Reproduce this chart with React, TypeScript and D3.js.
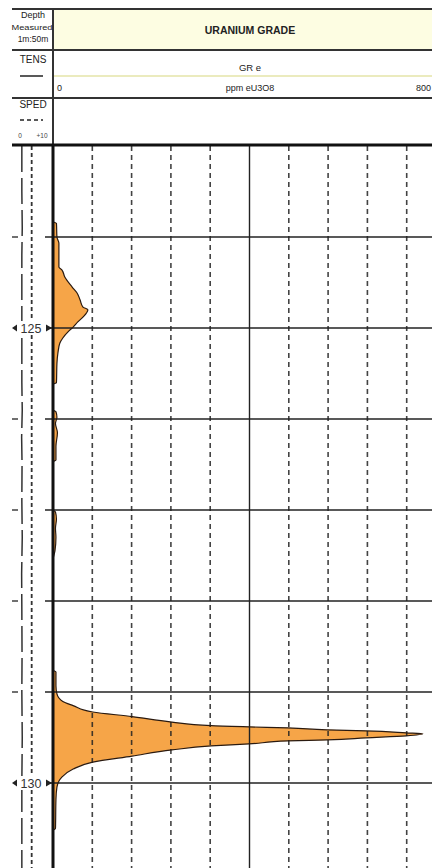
import React from "react";
import * as d3 from "d3";

// ---- data ----
const grDepth = [
  123.0, 123.83, 123.85, 124.0, 124.07, 124.33, 124.36, 124.44, 124.55, 124.615, 124.69, 124.77, 124.8, 124.88,
  124.93, 124.99, 125.04, 125.11, 125.165, 125.275, 125.39, 125.6, 125.62,
  125.9, 125.92, 125.98, 126.05, 126.15, 126.3, 126.45, 126.47,
  127.0, 127.02, 127.1, 127.2, 127.3, 127.45, 127.55,
  128.76, 128.78, 128.93, 129.02, 129.105, 129.15, 129.22, 129.27, 129.33, 129.37, 129.383, 129.394, 129.416,
  129.427, 129.449, 129.46, 129.482, 129.504, 129.527, 129.538, 129.571, 129.593, 129.637, 129.704, 129.77,
  129.847, 129.936, 130.046, 130.18, 130.5, 130.52, 131.0,
];
const grValue = [
  0, 0, 7, 8, 12, 12, 18, 24, 39, 49, 55, 61, 71, 61,
  51, 41, 31, 20, 14, 10, 8, 7, 0,
  0, 6, 8, 5, 9, 6, 6, 0,
  0, 5, 7, 5, 6, 4, 0,
  0, 6, 6, 8, 20, 41, 81, 161, 242, 322, 399, 478, 558,
  637, 719, 753, 719, 637, 558, 478, 399, 322, 242, 161, 81,
  41, 18, 8, 6, 5, 0, 0,
];
const tensDepth = [123.0, 123.5, 123.9, 124.2, 124.6, 125.1, 125.6, 125.9, 126.2, 126.5, 126.9, 127.3, 127.7, 128.1, 128.6, 129.0, 129.5, 130.0, 130.5, 131.0];
const tensValue = [24, 24, 25, 24, 24, 24, 24, 25, 23.5, 24.5, 24, 25, 23.5, 24, 24.5, 24, 25, 24, 24, 24];
const spedDepth = [123.0, 131.0];
const spedValue = [48, 48];
const gridMinor = [80, 160, 240, 320, 480, 560, 640, 720];
const gridMajor = [400];
const depthLines = [124, 125, 126, 127, 128, 129, 130];
const depthLabels = [125, 130];
const axisTicks = ["0", "ppm eU3O8", "800"];

const FONT = "'Liberation Sans', Arial, sans-serif";

export default function App() {
  const top = 146;
  const bottom = 868;
  const pxPerM = 91;
  const y = d3.scaleLinear().domain([123, 123 + (bottom - top) / pxPerM]).range([top, bottom]);
  const x = d3.scaleLinear().domain([0, 800]).range([53, 446]);
  const xTens = d3.scaleLinear().domain([0, 100]).range([12, 53]);

  const gr = grDepth.map((d, i) => ({ d, v: grValue[i] }));
  const area = d3
    .area<{ d: number; v: number }>()
    .y((p) => y(p.d))
    .x0(x(0))
    .x1((p) => x(p.v))
    .curve(d3.curveMonotoneY);
  const line = d3
    .line<{ d: number; v: number }>()
    .y((p) => y(p.d))
    .x((p) => x(p.v))
    .curve(d3.curveMonotoneY);
  const tens = tensDepth.map((d, i) => ({ d, v: tensValue[i] }));
  const tensLine = d3
    .line<{ d: number; v: number }>()
    .y((p) => y(p.d))
    .x((p) => xTens(p.v))
    .curve(d3.curveLinear);
  const sped = spedDepth.map((d, i) => ({ d, v: spedValue[i] }));

  const hdr = "#333";
  return (
    <svg
      width={432}
      height={868}
      style={{ position: "absolute", left: 0, top: 0, display: "block", background: "#fff" }}
      fontFamily={FONT}
    >
      <rect x={0} y={0} width={432} height={868} fill="#fff" />
      {/* header */}
      <rect x={53} y={9} width={400} height={41} fill="#fdfde2" />
      <line x1={12} x2={432} y1={9} y2={9} stroke={hdr} strokeWidth={2} />
      <line x1={12} x2={432} y1={50} y2={50} stroke={hdr} strokeWidth={2} />
      <line x1={53} x2={432} y1={76} y2={76} stroke="#e4e4a8" strokeWidth={1.5} />
      <line x1={12} x2={432} y1={98} y2={98} stroke={hdr} strokeWidth={2} />
      <line x1={53} x2={53} y1={9} y2={146} stroke={hdr} strokeWidth={2} />
      <text x={250} y={34} textAnchor="middle" fontSize={10.5} fontWeight="bold" fill="#222">URANIUM GRADE</text>
      <text x={250} y={71} textAnchor="middle" fontSize={9.5} fill="#222">GR e</text>
      <text x={57} y={91} textAnchor="start" fontSize={9} fill="#222">{axisTicks[0]}</text>
      <text x={250} y={91} textAnchor="middle" fontSize={9} fill="#222">{axisTicks[1]}</text>
      <text x={431} y={91} textAnchor="end" fontSize={9} fill="#222">{axisTicks[2]}</text>

      <text x={33} y={18} textAnchor="middle" fontSize={9} fill="#222">Depth</text>
      <text x={32} y={30} textAnchor="middle" fontSize={8} fill="#222" textLength={41} lengthAdjust="spacingAndGlyphs">Measured</text>
      <text x={33} y={42} textAnchor="middle" fontSize={8.5} fill="#222">1m:50m</text>
      <text x={33} y={63} textAnchor="middle" fontSize={10} fill="#222">TENS</text>
      <line x1={20} x2={43} y1={76} y2={76} stroke="#222" strokeWidth={1.5} />
      <text x={33} y={108} textAnchor="middle" fontSize={10} fill="#222">SPED</text>
      <line x1={20} x2={43} y1={120} y2={120} stroke="#222" strokeWidth={1.5} strokeDasharray="4,3" />
      <text x={20} y={138} textAnchor="middle" fontSize={6.5} fill="#444">0</text>
      <text x={42} y={138} textAnchor="middle" fontSize={6.5} fill="#444">+10</text>

      {/* GR fill */}
      <path d={area(gr) ?? ""} fill="#f6a548" />

      {/* grid */}
      {gridMinor.map((g) => (
        <line key={"m" + g} x1={x(g)} x2={x(g)} y1={top} y2={bottom} stroke="#222" strokeWidth={1.6} strokeDasharray="5,4" strokeOpacity={0.85} />
      ))}
      {gridMajor.map((g) => (
        <line key={"M" + g} x1={x(g)} x2={x(g)} y1={top} y2={bottom} stroke="#222" strokeWidth={1.4} />
      ))}
      {depthLines.map((d) => (
        <g key={"d" + d}>
          <line x1={45} x2={432} y1={y(d)} y2={y(d)} stroke="#222" strokeWidth={1.4} />
          {!depthLabels.includes(d) && <line x1={12} x2={18} y1={y(d)} y2={y(d)} stroke="#333" strokeWidth={1.4} />}
        </g>
      ))}

      {/* GR curve outline */}
      <path d={line(gr) ?? ""} fill="none" stroke="#2a1a10" strokeWidth={1.2} />

      {/* left tracks */}
      <path d={tensLine(tens) ?? ""} fill="none" stroke="#333" strokeWidth={1.5} strokeDasharray="26,6" />
      <path d={tensLine(sped) ?? ""} fill="none" stroke="#333" strokeWidth={1.8} strokeDasharray="4,3" />

      {depthLabels.map((d) => (
        <g key={"l" + d}>
          <rect x={17} y={y(d) - 7} width={29} height={14} fill="#fff" />
          <text x={31} y={y(d) + 4.5} textAnchor="middle" fontSize={12.5} fill="#333">{d}</text>
          <path d={`M12,${y(d)} L17,${y(d) - 3.5} L17,${y(d) + 3.5} Z`} fill="#222" />
          <path d={`M52,${y(d)} L46,${y(d) - 3.5} L46,${y(d) + 3.5} Z`} fill="#222" />
        </g>
      ))}

      {/* borders */}
      <line x1={53} x2={53} y1={top} y2={bottom} stroke="#111" strokeWidth={3} />
      <line x1={12} x2={432} y1={top - 1} y2={top - 1} stroke="#111" strokeWidth={3} />
    </svg>
  );
}
